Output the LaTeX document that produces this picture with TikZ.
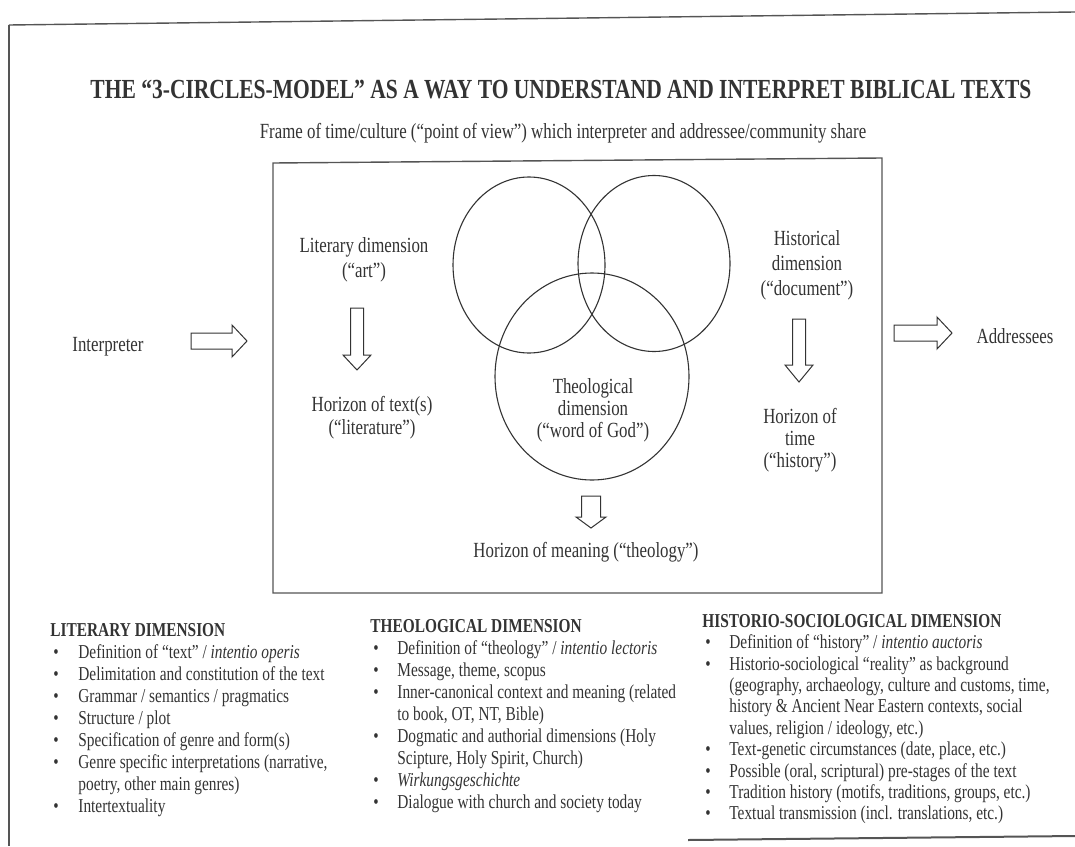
\documentclass[tikz,border=0pt]{standalone}
\usepackage{fontspec}
\setmainfont{Liberation Serif}[FakeStretch=0.78]
\definecolor{ink}{HTML}{333333}
\definecolor{rule}{HTML}{555555}
\newcommand{\bul}{\hspace{1.5pt}\textbullet}
\begin{document}
\begin{tikzpicture}[x=0.5pt,y=-0.5pt,
  body/.style={font=\fontsize{10.8}{12.5}\selectfont, text=ink, inner sep=0pt, align=center},
  tight/.style={font=\fontsize{10.8}{11}\selectfont},
  colstyle/.style={font=\fontsize{9.85}{11}\selectfont, text=ink, inner sep=0pt, anchor=north west, align=left},
  frameline/.style={draw=rule, line width=0.7pt},
  circline/.style={draw=ink, line width=0.55pt},
  blockarrow/.style={draw=ink, line width=0.5pt, line join=miter, fill=white}]
\useasboundingbox (0,0) rectangle (1075,846);

% page edges
\draw[frameline] (9,25) -- (1075,12);
\draw[frameline] (9,25) -- (9,846);
\draw[draw=rule, line width=1pt] (688,840) -- (1075,836);

% title and frame caption
\node[body, font=\bfseries\fontsize{13.8}{16}\selectfont] (title) at (561,90)
  {THE “3-CIRCLES-MODEL” AS A WAY TO UNDERSTAND AND INTERPRET BIBLICAL TEXTS};
\node[body] (frame) at (563,133)
  {Frame of time/culture (“point of view”) which interpreter and addressee/community share};

% main box
\draw[frameline] (273,163) -- (882,158) -- (882,593) -- (273,593) -- cycle;

% circles
\draw[circline] (529,265) ellipse [x radius=76, y radius=88];
\draw[circline] (654,263.5) ellipse [x radius=76, y radius=88];
\draw[circline] (592,376.5) ellipse [x radius=97, y radius=103.5];

% labels
\node[body] (lit) at (364,260) {Literary dimension\\(“art”)};
\node[body, font=\fontsize{10.8}{11.5}\selectfont] (hortext) at (372,418) {Horizon of text(s)\\(“literature”)};
\node[body] (hist) at (807,265) {Historical\\dimension\\(“document”)};
\node[body, tight] (hortime) at (800,440) {Horizon of\\time\\(“history”)};
\node[body, tight] (theo) at (593,410) {Theological\\dimension\\(“word of God”)};
\node[body] (hormean) at (586,552) {Horizon of meaning (“theology”)};
\node[body] (interp) at (108,347) {Interpreter};
\node[body] (addr) at (1015,336) {Addressees};

% block arrows (down)
\draw[blockarrow] (350.5,308) -- (350.5,355) -- (343,355) -- (357,370) -- (371,355) -- (363.5,355) -- (363.5,308) -- cycle;
\draw[blockarrow] (792.5,319) -- (792.5,365) -- (785,365) -- (799,382) -- (813,365) -- (805.5,365) -- (805.5,319) -- cycle;
\draw[blockarrow] (581.5,496) -- (581.5,517) -- (576,517) -- (591,528) -- (606,517) -- (600.5,517) -- (600.5,496) -- cycle;
% block arrows (right)
\draw[blockarrow] (191,333) -- (232,333) -- (232,325) -- (247,341) -- (232,357) -- (232,349) -- (191,349) -- cycle;
\draw[blockarrow] (894,325) -- (937,325) -- (937,317) -- (952,333) -- (937,349) -- (937,341) -- (894,341) -- cycle;

% bottom columns
\node[colstyle] (litcol) at (50,621) {%
\begin{tabular}{@{}p{14pt}@{}l@{}}
\multicolumn{2}{@{}l@{}}{\bfseries LITERARY DIMENSION}\\
\bul & Definition of “text” / \textit{intentio operis}\\
\bul & Delimitation and constitution of the text\\
\bul & Grammar / semantics / pragmatics\\
\bul & Structure / plot\\
\bul & Specification of genre and form(s)\\
\bul & Genre specific interpretations (narrative,\\
     & poetry, other main genres)\\
\bul & Intertextuality
\end{tabular}};

\node[colstyle] (theocol) at (370,617) {%
\begin{tabular}{@{}p{13.5pt}@{}l@{}}
\multicolumn{2}{@{}l@{}}{\bfseries THEOLOGICAL DIMENSION}\\
\bul & Definition of “theology” / \textit{intentio lectoris}\\
\bul & Message, theme, scopus\\
\bul & Inner-canonical context and meaning (related\\
     & to book, OT, NT, Bible)\\
\bul & Dogmatic and authorial dimensions (Holy\\
     & Scipture, Holy Spirit, Church)\\
\bul & \textit{Wirkungsgeschichte}\\
\bul & Dialogue with church and society today
\end{tabular}};

\node[colstyle, font=\fontsize{9.85}{10.7}\selectfont] (histcol) at (702,612) {%
\begin{tabular}{@{}p{13.5pt}@{}l@{}}
\multicolumn{2}{@{}l@{}}{\bfseries HISTORIO-SOCIOLOGICAL DIMENSION}\\
\bul & Definition of “history” / \textit{intentio auctoris}\\
\bul & Historio-sociological “reality” as background\\
     & (geography, archaeology, culture and customs, time,\\
     & history \& Ancient Near Eastern contexts, social\\
     & values, religion / ideology, etc.)\\
\bul & Text-genetic circumstances (date, place, etc.)\\
\bul & Possible (oral, scriptural) pre-stages of the text\\
\bul & Tradition history (motifs, traditions, groups, etc.)\\
\bul & Textual transmission (incl. translations, etc.)
\end{tabular}};
\end{tikzpicture}
\end{document}
